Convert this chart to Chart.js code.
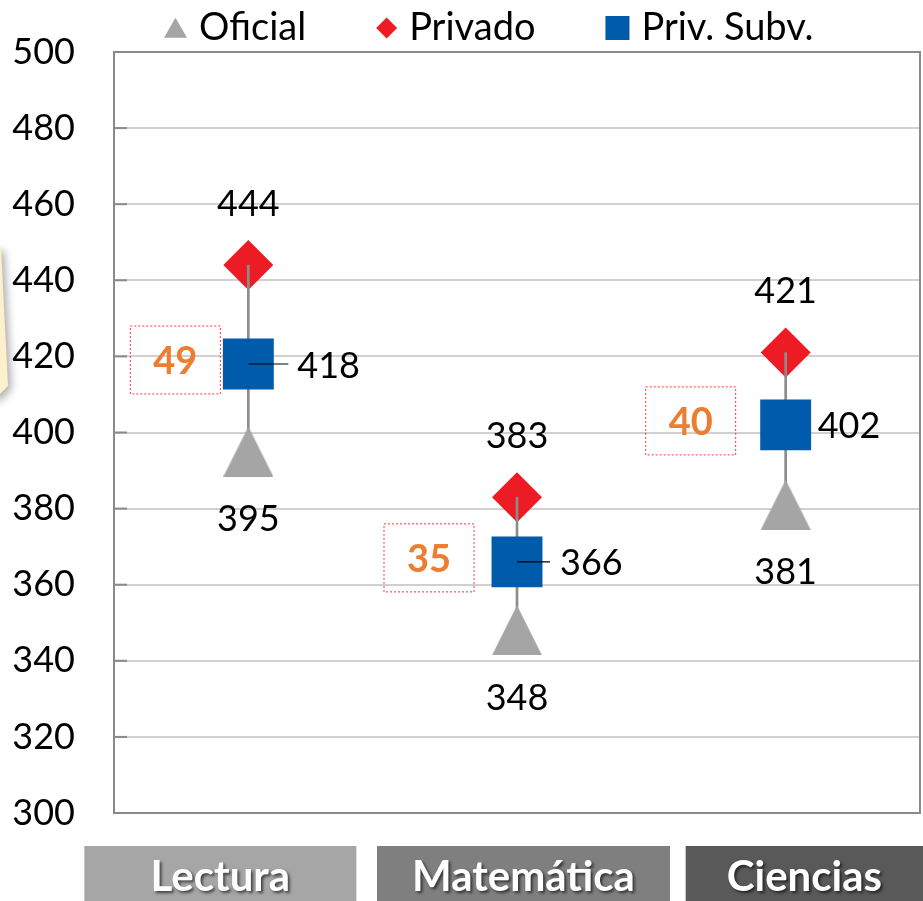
<!DOCTYPE html>
<html>
<head>
<meta charset="utf-8">
<script src="https://cdn.jsdelivr.net/npm/chart.js@4.4.0/dist/chart.umd.min.js"></script>
<style>
  html, body { margin: 0; padding: 0; background: #fff; }
</style>
</head>
<body>
<canvas id="grafico" width="923" height="901"></canvas>
<script>
const categorias = ['Lectura', 'Matemática', 'Ciencias'];
const oficial = [395, 348, 381];
const privado = [444, 383, 421];
const privSubv = [418, 366, 402];
const brechas = [49, 35, 40];
const ticksY = [300, 320, 340, 360, 380, 400, 420, 440, 460, 480, 500];

const GRIS = '#a5a5a5';
const ROJO = '#ed1c24';
const AZUL = '#005baa';

Chart.defaults.font.family = 'Lato';

// triangulo algo mas alto que el de Chart.js, como el de Excel
function hacerTriangulo(w, h, color) {
  const c = document.createElement('canvas');
  c.width = w;
  c.height = h;
  const g = c.getContext('2d');
  g.fillStyle = color;
  g.beginPath();
  g.moveTo(w / 2, 0);
  g.lineTo(w, h);
  g.lineTo(0, h);
  g.closePath();
  g.fill();
  return c;
}
const trianguloGris = hacerTriangulo(50, 50, GRIS);

// fondo, borde del area y marcas de eje
const marcoPlugin = {
  id: 'marco',
  beforeDraw(chart) {
    const ctx = chart.ctx;
    // trozo de la nota amarilla que asoma por la izquierda
    ctx.save();
    ctx.shadowColor = 'rgba(0,0,0,0.35)';
    ctx.shadowBlur = 8;
    ctx.shadowOffsetX = 3;
    ctx.shadowOffsetY = 3;
    ctx.fillStyle = '#fdf0cc';
    ctx.beginPath();
    ctx.moveTo(-8, 248);
    ctx.lineTo(1, 248);
    ctx.lineTo(8, 386);
    ctx.lineTo(-8, 402);
    ctx.closePath();
    ctx.fill();
    ctx.restore();
  },
  beforeDatasetsDraw(chart) {
    const { ctx, chartArea: a, scales: { y } } = chart;
    ctx.save();
    ctx.strokeStyle = '#8a8a8a';
    ctx.lineWidth = 2;
    ctx.strokeRect(a.left, a.top, a.right - a.left, a.bottom - a.top);
    ticksY.forEach(v => {
      const py = y.getPixelForValue(v);
      ctx.beginPath();
      ctx.moveTo(a.left, py);
      ctx.lineTo(a.left + 13, py);
      ctx.stroke();
    });
    ctx.restore();
  }
};

// etiquetas de valores y recuadros de brecha
const etiquetasPlugin = {
  id: 'etiquetas',
  afterDatasetsDraw(chart) {
    const ctx = chart.ctx;
    const mOf = chart.getDatasetMeta(1).data;
    const mPr = chart.getDatasetMeta(2).data;
    const mSv = chart.getDatasetMeta(3).data;
    const dxTexto = [49, 43, 32];
    const dxLinea = [40, 33, 0];
    const dxCaja = [-73, -88, -95];
    ctx.save();
    ctx.font = '36px Lato';
    ctx.fillStyle = '#000';
    ctx.textBaseline = 'middle';
    categorias.forEach((c, i) => {
      ctx.textAlign = 'center';
      ctx.fillText(String(privado[i]), mPr[i].x, mPr[i].y - 61);
      ctx.fillText(String(oficial[i]), mOf[i].x, mOf[i].y + 68);
      ctx.textAlign = 'left';
      ctx.fillText(String(privSubv[i]), mSv[i].x + dxTexto[i], mSv[i].y + 2);
      if (dxLinea[i] > 0) {
        ctx.strokeStyle = '#000';
        ctx.lineWidth = 1.2;
        ctx.beginPath();
        ctx.moveTo(mSv[i].x, mSv[i].y);
        ctx.lineTo(mSv[i].x + dxLinea[i], mSv[i].y);
        ctx.stroke();
      }
    });
    // recuadros con la brecha
    categorias.forEach((c, i) => {
      const cx = mSv[i].x + dxCaja[i];
      const cy = mSv[i].y - 4;
      ctx.save();
      ctx.strokeStyle = '#ff3333';
      ctx.lineWidth = 1;
      ctx.setLineDash([2, 2]);
      ctx.strokeRect(cx - 45, cy - 34, 90, 68);
      ctx.restore();
      ctx.font = 'bold 38px Lato';
      ctx.fillStyle = '#ed7d31';
      ctx.textAlign = 'center';
      ctx.fillText(String(brechas[i]), cx, cy + 2);
    });
    ctx.restore();
  },
  afterDraw(chart) {
    const { ctx, chartArea: a, scales: { x } } = chart;
    // cajas de categorias
    const cajas = [[-164, 108], [-140, 153], [-100, 140]];
    const colores = ['#a6a6a6', '#7f7f7f', '#595959'];
    ctx.save();
    categorias.forEach((c, i) => {
      const px = x.getPixelForValue(i);
      const x0 = px + cajas[i][0], x1 = px + cajas[i][1];
      ctx.fillStyle = colores[i];
      ctx.fillRect(x0, a.bottom + 33, x1 - x0, chart.height - a.bottom - 33);
      ctx.save();
      ctx.shadowColor = 'rgba(0,0,0,0.6)';
      ctx.shadowBlur = 3;
      ctx.shadowOffsetX = 2;
      ctx.shadowOffsetY = 2;
      ctx.fillStyle = '#fff';
      ctx.font = 'bold 42px Lato';
      ctx.textAlign = 'center';
      ctx.textBaseline = 'middle';
      ctx.fillText(c, (x0 + Math.min(x1, chart.width)) / 2, a.bottom + 64);
      ctx.restore();
    });
    // leyenda
    const items = [
      { ds: 1, estilo: 'triangle', r: 13.3, w: 23 },
      { ds: 2, estilo: 'rectRot', r: 10.5, w: 21 },
      { ds: 3, estilo: 'rect', r: 17, w: 24 }
    ];
    let lx = 164;
    ctx.font = '38px Lato';
    ctx.textAlign = 'left';
    ctx.textBaseline = 'middle';
    items.forEach(it => {
      const ds = chart.data.datasets[it.ds];
      ctx.fillStyle = ds.backgroundColor;
      Chart.helpers.drawPoint(ctx, { pointStyle: it.estilo, radius: it.r, rotation: 0, borderWidth: 0 },
        lx + it.w / 2, it.estilo === 'triangle' ? 31 : 28);
      ctx.fillStyle = '#000';
      const tx = lx + it.w + 12;
      ctx.fillText(ds.label, tx, 28);
      lx = tx + ctx.measureText(ds.label).width + 70;
    });
    ctx.restore();
  }
};

new Chart(document.getElementById('grafico'), {
  data: {
    labels: categorias,
    datasets: [
      {
        type: 'bar',
        label: 'rango',
        data: oficial.map((v, i) => [v, privado[i]]),
        backgroundColor: '#8c8c8c',
        barThickness: 2,
        order: 3
      },
      {
        type: 'line',
        label: 'Oficial',
        data: oficial,
        showLine: false,
        pointStyle: trianguloGris,
        pointRadius: 25,
        pointBorderWidth: 0,
        backgroundColor: GRIS,
        borderColor: GRIS,
        order: 2
      },
      {
        type: 'line',
        label: 'Privado',
        data: privado,
        showLine: false,
        pointStyle: 'rectRot',
        pointRadius: 25,
        pointBorderWidth: 0,
        backgroundColor: ROJO,
        borderColor: ROJO,
        order: 4
      },
      {
        type: 'line',
        label: 'Priv. Subv.',
        data: privSubv,
        showLine: false,
        pointStyle: 'rect',
        pointRadius: 36,
        pointBorderWidth: 0,
        backgroundColor: AZUL,
        borderColor: AZUL,
        order: 1
      }
    ]
  },
  options: {
    responsive: false,
    animation: false,
    devicePixelRatio: 1,
    layout: { autoPadding: false, padding: { top: 52, right: 3, bottom: 88, left: 0 } },
    plugins: {
      legend: { display: false },
      tooltip: { enabled: false }
    },
    scales: {
      x: {
        type: 'category',
        display: false,
        offset: true
      },
      y: {
        min: 300,
        max: 500,
        afterBuildTicks: s => { s.ticks = ticksY.map(v => ({ value: v })); },
        afterFit: s => { s.width = 114; s.paddingTop = 0; s.paddingBottom = 0; },
        border: { display: false },
        grid: { color: '#d0d0d0', lineWidth: 2, drawTicks: false, tickLength: 0 },
        ticks: { color: '#000', font: { size: 36 }, padding: 39 }
      }
    }
  },
  plugins: [marcoPlugin, etiquetasPlugin]
});
</script>
</body>
</html>
